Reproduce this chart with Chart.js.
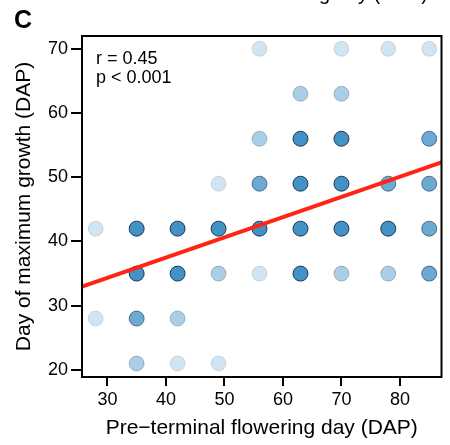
<!DOCTYPE html>
<html>
<head>
<meta charset="utf-8">
<script src="https://cdn.jsdelivr.net/npm/chart.js@4"></script>
<style>
  body { margin: 0; background: #fff; }
  #wrap { width: 450px; height: 445px; }
</style>
</head>
<body>
<div id="wrap"><canvas id="scatterChart" width="450" height="445"></canvas></div>
<script>
// Data
const flowerDay = [28, 28,
    35, 35, 35, 35,
    42, 42, 42, 42,
    49, 49, 49, 49,
    56, 56, 56, 56, 56,
    63, 63, 63, 63, 63,
    70, 70, 70, 70, 70, 70,
    78, 78, 78, 78,
    85, 85, 85, 85, 85];
const growthDay = [42, 28,
    42, 35, 28, 21,
    42, 35, 28, 21,
    49, 42, 35, 21,
    70, 56, 49, 42, 35,
    63, 56, 49, 42, 35,
    70, 63, 56, 49, 42, 35,
    70, 49, 42, 35,
    70, 56, 49, 42, 35];
// shade level of each dot (1 = lightest, 4 = darkest)
const shadeLevel = [1, 1,
    4, 4, 3, 2,
    4, 4, 2, 1,
    1, 4, 2, 1,
    1, 2, 3, 4, 1,
    2, 4, 4, 4, 4,
    1, 2, 4, 4, 4, 2,
    1, 3, 4, 2,
    1, 3, 3, 3, 3];
const xTicks = [30, 40, 50, 60, 70, 80];
const yTicks = [20, 30, 40, 50, 60, 70];
const fitSlope = 0.315;
const fitIntercept = 24.9;
const statLines = ['r = 0.45', 'p < 0.001'];

const xMin = 25.66, xMax = 87.1;
const yMin = 18.9, yMax = 72.0;

const levelAlpha = { 1: 0.25, 2: 0.45, 3: 0.78, 4: 1 };
const borderAlpha = { 1: 0.12, 2: 0.25, 3: 0.55, 4: 0.85 };

const points = flowerDay.map((x, i) => ({ x: x, y: growthDay[i] }));
const fillColors = shadeLevel.map(l => 'rgba(66, 146, 198, ' + levelAlpha[l] + ')');
const edgeColors = shadeLevel.map(l => 'rgba(15, 35, 60, ' + borderAlpha[l] + ')');

const fitLine = [
    { x: xMin, y: fitIntercept + fitSlope * xMin },
    { x: xMax, y: fitIntercept + fitSlope * xMax }
];

const fontFamily = "'Liberation Sans', Arial, sans-serif";

// frame + annotation text
const decorPlugin = {
    id: 'decor',
    afterDraw(chart) {
        const { ctx, chartArea } = chart;
        ctx.save();
        ctx.strokeStyle = '#000';
        ctx.lineWidth = 2;
        ctx.strokeRect(chartArea.left, chartArea.top,
            chartArea.right - chartArea.left, chartArea.bottom - chartArea.top);

        ctx.fillStyle = '#000';
        ctx.textBaseline = 'alphabetic';
        ctx.textAlign = 'left';
        ctx.font = '18px ' + fontFamily;
        statLines.forEach((t, i) => ctx.fillText(t, chartArea.left + 14, 64 + i * 18.5));

        ctx.font = 'bold 25px ' + fontFamily;
        ctx.fillText('C', 14, 28);

        // bottom of the previous panel's label, cut by the crop
        ctx.font = '20px ' + fontFamily;
        ctx.textAlign = 'right';
        ctx.fillText('flowering day (DAP)', 428, -0.5);
        ctx.restore();
    }
};

const ctx = document.getElementById('scatterChart').getContext('2d');
new Chart(ctx, {
    type: 'scatter',
    data: {
        datasets: [
            {
                type: 'line',
                data: fitLine,
                borderColor: '#ff2414',
                borderWidth: 4,
                pointRadius: 0,
                fill: false,
                order: 0
            },
            {
                data: points,
                backgroundColor: fillColors,
                borderColor: edgeColors,
                borderWidth: 1,
                pointRadius: 7.5,
                pointHoverRadius: 7.5,
                order: 1
            }
        ]
    },
    plugins: [decorPlugin],
    options: {
        responsive: false,
        animation: false,
        devicePixelRatio: 1,
        layout: { padding: { top: 36, right: 4, left: 0, bottom: 0 } },
        plugins: {
            legend: { display: false },
            tooltip: { enabled: false }
        },
        scales: {
            x: {
                type: 'linear',
                min: xMin,
                max: xMax,
                afterBuildTicks: axis => { axis.ticks = xTicks.map(v => ({ value: v })); },
                afterFit: axis => { axis.height = 68; },
                border: { display: false },
                grid: {
                    drawOnChartArea: false,
                    drawTicks: true,
                    tickLength: 9,
                    lineWidth: 2,
                    color: '#000'
                },
                ticks: {
                    color: '#000',
                    padding: 3,
                    font: { size: 18, family: fontFamily }
                },
                title: {
                    display: true,
                    text: 'Pre\u2212terminal flowering day (DAP)',
                    color: '#000',
                    font: { size: 21, family: fontFamily },
                    padding: { top: 0, bottom: 4 }
                }
            },
            y: {
                type: 'linear',
                min: yMin,
                max: yMax,
                afterBuildTicks: axis => { axis.ticks = yTicks.map(v => ({ value: v })); },
                afterFit: axis => { axis.width = 82; },
                border: { display: false },
                grid: {
                    drawOnChartArea: false,
                    drawTicks: true,
                    tickLength: 11,
                    lineWidth: 2,
                    color: '#000'
                },
                ticks: {
                    color: '#000',
                    padding: 3,
                    font: { size: 18, family: fontFamily }
                },
                title: {
                    display: true,
                    text: 'Day of maximum growth (DAP)',
                    color: '#000',
                    font: { size: 21, family: fontFamily },
                    padding: { top: 12, bottom: 0 }
                }
            }
        }
    }
});
</script>
</body>
</html>
